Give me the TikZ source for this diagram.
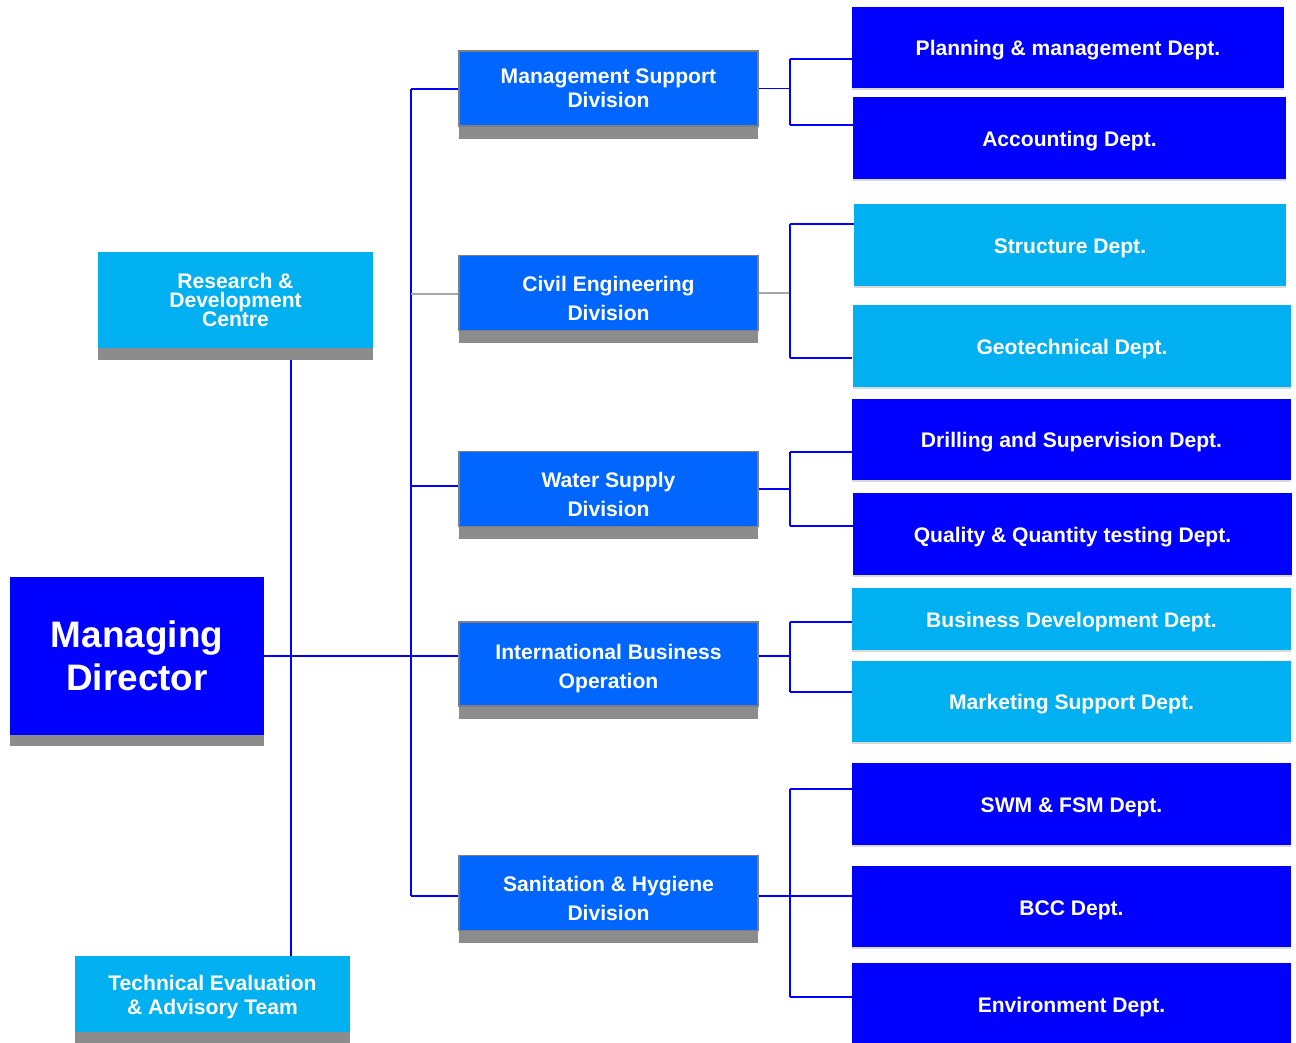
\documentclass[tikz,border=0pt]{standalone}
\usepackage{fontspec}
\setmainfont{Liberation Sans}
\usepackage{tikz}
\usetikzlibrary{shadows}
\definecolor{mdblue}{HTML}{0000FF}
\definecolor{divblue}{HTML}{0066FF}
\definecolor{skyblue}{HTML}{00B0F0}
\definecolor{edgegray}{HTML}{7F7F7F}
\newcommand{\lowerby}[1]{\rule{0pt}{#1}}

\begin{document}
\begin{tikzpicture}[x=0.02cm, y=-0.02cm]
        \useasboundingbox (0,0) rectangle (1296,1043);
        \tikzstyle{box} = [rectangle, inner sep=0pt, align=center, text=white, font=\bfseries\fontsize{12}{16.5}\selectfont]
        \tikzstyle{mdrect} = [box, fill=mdblue, minimum width=5.08cm, minimum height=3.16cm, font=\bfseries\fontsize{21}{24.5}\selectfont, drop shadow={shadow xshift=0pt, shadow yshift=-0.22cm, fill=black!50, opacity=0.9}]
        \tikzstyle{siderect} = [box, fill=skyblue, minimum width=5.5cm, minimum height=1.92cm, drop shadow={shadow xshift=0pt, shadow yshift=-0.24cm, fill=black!50, opacity=0.9}]
        \tikzstyle{divrect} = [box, fill=divblue, draw=edgegray, line width=1pt, minimum width=5.98cm, minimum height=1.5cm, drop shadow={shadow xshift=0pt, shadow yshift=-0.26cm, fill=black!50, opacity=0.9}]
        \tikzstyle{deptrect} = [box, fill=mdblue, minimum width=8.78cm, minimum height=1.64cm, execute at begin node={\rule{0pt}{12.2pt}}, drop shadow={shadow xshift=0pt, shadow yshift=-0.04cm, fill=black!50, opacity=0.3}]
        \tikzstyle{lightrect} = [deptrect, fill=skyblue]
        \tikzstyle{link} = [draw=mdblue, line width=1.1pt]
        \tikzstyle{greylink} = [draw=gray!70, line width=0.9pt]
        % left column
        \node (md) [mdrect] at (137,656) {Managing\\Director};
        \node (rd) [siderect, font=\bfseries\fontsize{12}{11}\selectfont] at (235.5,300) {Research \&\\Development\\Centre};
        \node (tea) [siderect, minimum height=1.52cm, font=\bfseries\fontsize{12}{13.6}\selectfont] at (212.5,994) {\lowerby{12.6pt}Technical Evaluation\\\& Advisory Team};
        % divisions
        \node (msd) [divrect, font=\bfseries\fontsize{12}{13.6}\selectfont] at (608.5,88.5) {Management Support\\Division};
        \node (ced) [divrect] at (608.5,293) {\lowerby{14.6pt}Civil Engineering\\Division};
        \node (wsd) [divrect] at (608.5,489) {\lowerby{14.6pt}Water Supply\\Division};
        \node (ibo) [divrect, minimum height=1.68cm] at (608.5,664) {\lowerby{13.8pt}International Business\\Operation};
        \node (snd) [divrect] at (608.5,893) {\lowerby{14.6pt}Sanitation \& Hygiene\\Division};
        % departments
        \node (pmd) [deptrect, minimum width=8.64cm] at (1068,47.5) {Planning \& management Dept.};
        \node (acd) [deptrect, minimum width=8.66cm] at (1069.5,138) {Accounting Dept.};
        \node (std) [lightrect, minimum width=8.64cm] at (1070,245) {Structure Dept.};
        \node (gtd) [lightrect] at (1072,346) {Geotechnical Dept.};
        \node (dsd) [deptrect] at (1071.5,439.5) {Drilling and Supervision Dept.};
        \node (qqd) [deptrect] at (1072.5,534) {Quality \& Quantity testing Dept.};
        \node (bdd) [lightrect, minimum height=1.24cm] at (1071.5,619) {Business Development Dept.};
        \node (msp) [lightrect] at (1071.5,701.5) {Marketing Support Dept.};
        \node (swm) [deptrect] at (1071.5,804) {SWM \& FSM Dept.};
        \node (bcc) [deptrect] at (1071.5,906.5) {BCC Dept.};
        \node (env) [deptrect] at (1071.5,1004) {Environment Dept.};
        % junction points
        \coordinate (t1) at (411,89);
        \coordinate (t2) at (411,294);
        \coordinate (t3) at (411,486);
        \coordinate (t4) at (411,656);
        \coordinate (t5) at (411,896);
        \coordinate (rdx) at (291,656);
        \coordinate (m1) at (790,59);
        \coordinate (m2) at (790,125);
        \coordinate (c1) at (790,224);
        \coordinate (c2) at (790,358);
        \coordinate (w1) at (790,452);
        \coordinate (w2) at (790,526);
        \coordinate (i1) at (790,622);
        \coordinate (i2) at (790,692);
        \coordinate (s1) at (790,789);
        \coordinate (s2) at (790,896);
        \coordinate (s3) at (790,997);
        % trunk
        \draw[link] (t1) -- (t5);
        \draw[link] (t1) -- (t1 -| msd.west);
        \draw[greylink] (t2) -- (t2 -| ced.west);
        \draw[link] (t3) -- (t3 -| wsd.west);
        \draw[link] (md.east) -- (md.east -| ibo.west);
        \draw[link] (t5) -- (t5 -| snd.west);
        \draw[link] ([yshift=-0.24cm]rd.south -| rdx) -- (tea.north -| rdx);
        % management support
        \draw[link] (msd.east) -- (msd.east -| m1);
        \draw[link] (m1) -- (m2);
        \draw[link] (m1) -- (m1 -| pmd.west);
        \draw[link] (m2) -- (m2 -| acd.west);
        % civil engineering
        \draw[greylink] (ced.east) -- (ced.east -| c1);
        \draw[link] (c1) -- (c2);
        \draw[link] (c1) -- (c1 -| std.west);
        \draw[link] (c2) -- (c2 -| gtd.west);
        % water supply
        \draw[link] (wsd.east) -- (wsd.east -| w1);
        \draw[link] (w1) -- (w2);
        \draw[link] (w1) -- (w1 -| dsd.west);
        \draw[link] (w2) -- (w2 -| qqd.west);
        % international business
        \draw[link] (t4 -| ibo.east) -- (t4 -| i1);
        \draw[link] (i1) -- (i2);
        \draw[link] (i1) -- (i1 -| bdd.west);
        \draw[link] (i2) -- (i2 -| msp.west);
        % sanitation
        \draw[link] (s2 -| snd.east) -- (s2);
        \draw[link] (s1) -- (s3);
        \draw[link] (s1) -- (s1 -| swm.west);
        \draw[link] (s2) -- (s2 -| bcc.west);
        \draw[link] (s3) -- (s3 -| env.west);
    \end{tikzpicture}
\end{document}
